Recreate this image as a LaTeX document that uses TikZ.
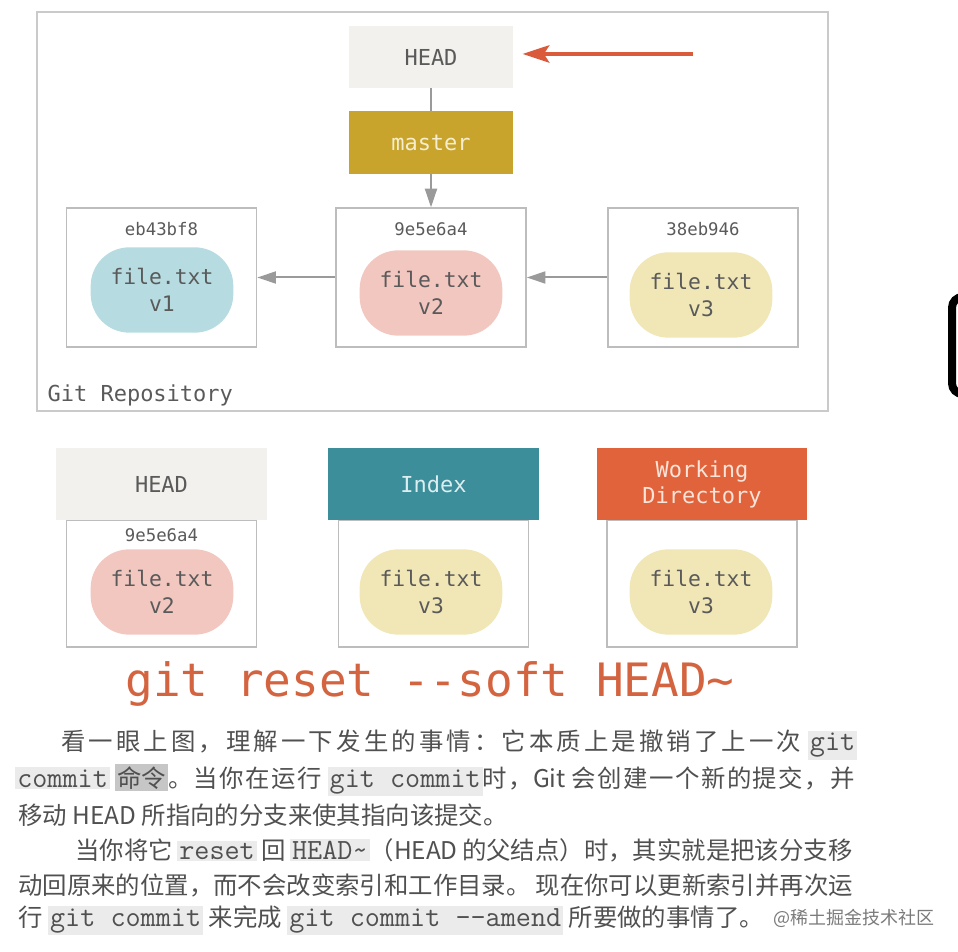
\documentclass[tikz,border=0pt]{standalone}
\usepackage{fontspec}
\newfontfamily\diagfont{DejaVu Sans Mono}
\newfontfamily\cjkfont{Noto Sans CJK SC}
\usetikzlibrary{arrows.meta,positioning}

% stretchable glue between CJK characters, for the justified lines
\XeTeXinterchartokenstate=1
\newcount\cjkcode
\cjkcode="3000
\loop
  \XeTeXcharclass\cjkcode=7
  \advance\cjkcode by 1
\ifnum\cjkcode<"3040 \repeat
\cjkcode="4E00
\loop
  \XeTeXcharclass\cjkcode=7
  \advance\cjkcode by 1
\ifnum\cjkcode<"A000 \repeat
\cjkcode="FF00
\loop
  \XeTeXcharclass\cjkcode=7
  \advance\cjkcode by 1
\ifnum\cjkcode<"FFF0 \repeat
\XeTeXinterchartoks 7 7 = {\hskip 0pt plus 1fil\relax}

\definecolor{headbg}{HTML}{F2F1ED}
\definecolor{mastergold}{HTML}{C8A42C}
\definecolor{mastertext}{HTML}{F4EDCF}
\definecolor{indexteal}{HTML}{3B8E9A}
\definecolor{indextext}{HTML}{DCEEF0}
\definecolor{wdorange}{HTML}{E0633B}
\definecolor{wdtext}{HTML}{FAE3D8}
\definecolor{boxgray}{HTML}{BDBDBD}
\definecolor{repogray}{HTML}{CACACA}
\definecolor{arrowgray}{HTML}{9A9A9A}
\definecolor{inkgray}{HTML}{5A5A5A}
\definecolor{blobblue}{HTML}{B6DCE1}
\definecolor{blobpink}{HTML}{F2C7C0}
\definecolor{blobyellow}{HTML}{F1E7B6}
\definecolor{pointred}{HTML}{D95B3C}
\definecolor{cmdred}{HTML}{D4643F}
\definecolor{bodygray}{HTML}{505050}
\definecolor{codebg}{HTML}{EBEBEB}
\definecolor{hlbg}{HTML}{C6C6C6}
\definecolor{markgray}{HTML}{7A7A7A}

\newcommand{\codetxt}[1]{{\setlength{\fboxsep}{1.5pt}\colorbox{codebg}{\fontsize{22}{22}\ttfamily #1}}}
\newcommand{\hltxt}[1]{{\setlength{\fboxsep}{1.5pt}\colorbox{hlbg}{#1}}}

\tikzset{
  repobox/.style={
    draw=repogray,
    line width=1.5pt,
    minimum width=593pt,
    minimum height=299pt
  },
  refbox/.style={
    minimum width=123pt,
    minimum height=46.5pt,
    font=\diagfont\fontsize{16.5}{20}\selectfont
  },
  commitbox/.style={
    draw=boxgray,
    line width=1.2pt,
    minimum width=142.5pt,
    minimum height=104pt
  },
  hashlbl/.style={
    text=inkgray,
    font=\diagfont\fontsize{13}{15}\selectfont
  },
  blob/.style={
    rounded corners=29pt,
    align=center,
    minimum width=107pt,
    minimum height=64pt,
    text=inkgray,
    font=\diagfont\fontsize{16}{20}\selectfont
  },
  header/.style={
    align=center,
    minimum width=158pt,
    minimum height=54pt,
    font=\diagfont\fontsize{16.5}{20}\selectfont
  },
  treebox/.style={
    draw=boxgray,
    line width=1.2pt,
    minimum width=142.5pt,
    minimum height=95pt
  },
  line/.style={
    -{Triangle[length=14pt,width=9pt]},
    draw=arrowgray,
    line width=1.5pt
  },
  pointer/.style={
    -{Stealth[length=20pt,width=13pt,inset=4pt]},
    draw=pointred,
    line width=3pt
  },
  bodyline/.style={
    anchor=west,
    inner sep=0pt,
    text=bodygray,
    font=\cjkfont\fontsize{18.3}{22}\selectfont
  }
}

\begin{document}
\begin{tikzpicture}[x=0.75pt, y=-0.75pt]
  \useasboundingbox (0,0) rectangle (958,952);

  % repository with its three commits
  \node[repobox] (repo) at (432.5,211.5) {};
  \node[refbox, fill=headbg, text=inkgray] (head) at (431,57) {HEAD};
  \node[refbox, fill=mastergold, text=mastertext, minimum height=47pt] (master) at (431,142.5) {master};

  \node[commitbox] (c1) at (161.5,277.5) {};
  \node[commitbox] (c2) at (431,277.5) {};
  \node[commitbox] (c3) at (703,277.5) {};
  \node[hashlbl, below=8pt of c1.north] (h1) {eb43bf8};
  \node[hashlbl, below=8pt of c2.north] (h2) {9e5e6a4};
  \node[hashlbl, below=8pt of c3.north] (h3) {38eb946};
  \node[blob, fill=blobblue] (b1) at (162,290) {file.txt\\v1};
  \node[blob, fill=blobpink] (b2) at (431,293) {file.txt\\v2};
  \node[blob, fill=blobyellow] (b3) at (701,295) {file.txt\\v3};

  \draw[draw=arrowgray, line width=1.5pt] (head) -- (master);
  \draw[line] (master) -- (c2);
  \draw[line] (c2) -- (c1);
  \draw[line] (c3) -- (c2);

  \coordinate (ptail) at (693,54);
  \draw[pointer, shorten >=7pt] (ptail) -- (ptail -| head.east);

  \node[hashlbl, font=\diagfont\fontsize{16.5}{20}\selectfont, above right=1pt and 5pt of repo.south west] (repolbl) {Git Repository};

  % the three trees after the reset
  \node[treebox] (t1) at (161.5,583.5) {};
  \node[treebox] (t2) at (433.5,583.5) {};
  \node[treebox] (t3) at (702,583.5) {};
  \node[header, fill=headbg, text=inkgray, above=-1pt of t1] (thead) {HEAD};
  \node[header, fill=indexteal, text=indextext, above=-1pt of t2] (tindex) {Index};
  \node[header, fill=wdorange, text=wdtext, above=-1pt of t3] (twd) {Working\\Directory};
  \node[hashlbl, below=3.5pt of t1.north] (th1) {9e5e6a4};
  \node[blob, fill=blobpink] (tb1) at (162,592) {file.txt\\v2};
  \node[blob, fill=blobyellow] (tb2) at (431,592) {file.txt\\v3};
  \node[blob, fill=blobyellow] (tb3) at (701,592) {file.txt\\v3};

  \node[text=cmdred, font=\diagfont\fontsize{34.5}{40}\selectfont] (cmd) at (430,684) {git reset -{}-soft HEAD\textasciitilde};

  % text below
  \node[bodyline] (p1) at (61,745) {\hbox to 597pt{看一眼上图，理解一下发生的事情：它本质上是撤销了上一次\hskip 5pt\codetxt{git}}};
  \node[bodyline] (p2) at (15,780) {\hbox to 630pt{\codetxt{commit}\hskip 4pt\hltxt{命令}。当你在运行 \codetxt{git commit}时，Git 会创建一个新的提交，并}};
  \node[bodyline] (p3) at (18,815) {移动 HEAD 所指向的分支来使其指向该提交。};
  \node[bodyline] (p4) at (75,850) {\hbox to 583pt{当你将它 \codetxt{reset} 回 \codetxt{HEAD\textasciitilde}（HEAD 的父结点）时，其实就是把该分支移}};
  \node[bodyline] (p5) at (18,885) {\hbox to 626pt{动回原来的位置，而不会改变索引和工作目录。 现在你可以更新索引并再次运}};
  \node[bodyline] (p6) at (18,920) {行 \codetxt{git commit} 来完成 \codetxt{git commit -{}-amend} 所要做的事情了。};
  \node[bodyline, text=markgray, font=\cjkfont\fontsize{13.5}{16}\selectfont] (mark) at (773,918) {@稀土掘金技术社区};

  % edge of the dark frame at the right border
  \draw[line width=6pt, rounded corners=8pt] (962,297) -- (952,297) -- (952,394) -- (962,394);
\end{tikzpicture}
\end{document}
